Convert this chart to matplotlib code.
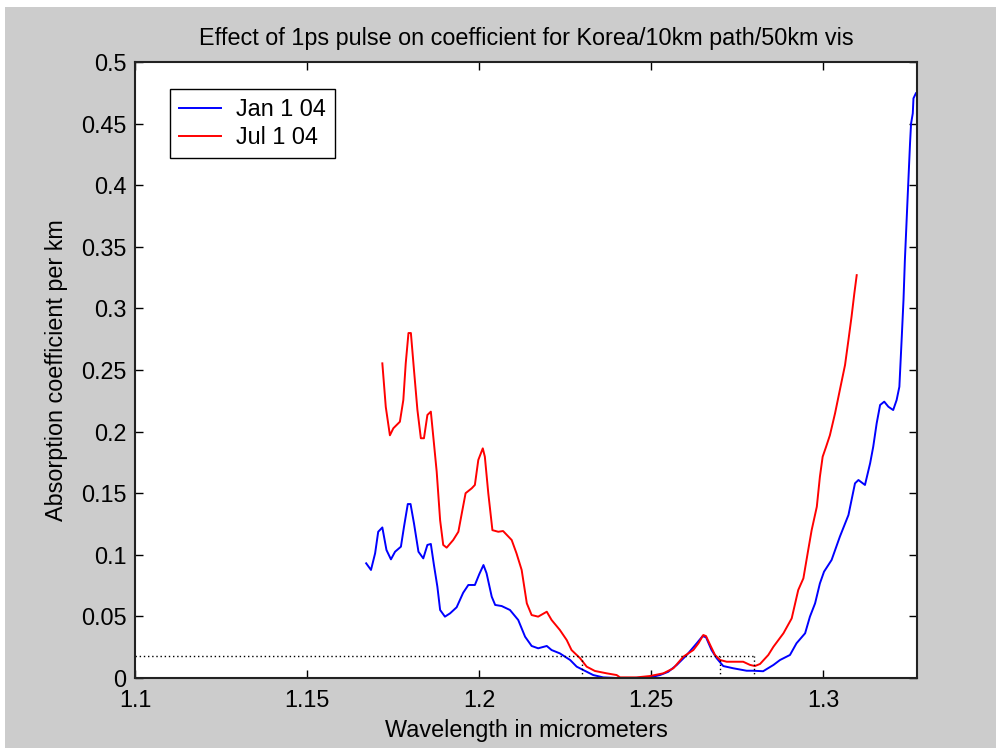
import numpy as np
import matplotlib
matplotlib.use('Agg')
import matplotlib.pyplot as plt
from matplotlib.patches import Rectangle

plt.rcParams['font.family'] = ['Liberation Sans', 'DejaVu Sans']

title = 'Effect of 1ps pulse on coefficient for Korea/10km path/50km vis'
x_label = 'Wavelength in micrometers'
y_label = 'Absorption coefficient per km'
series_names = ['Jan 1 04', 'Jul 1 04']

# Jan 1 04 (blue)
jan_wl = [1.1, 1.1029, np.nan,
          1.1672, 1.1686, 1.1698, 1.1707, 1.1719, 1.1731, 1.1744, 1.1756, 1.1773, 1.1782,
          1.1793, 1.1801, 1.1811, 1.1824, 1.1838, 1.1850, 1.1860, 1.1869, 1.1879, 1.1887,
          1.1901, 1.1916, 1.1935, 1.1954, 1.1969, 1.1988, 1.2001, 1.2013, 1.2022, 1.2037,
          1.2047, 1.2066, 1.2090, 1.2114, 1.2134, 1.2153, 1.2172, 1.2197, 1.2211, 1.2235,
          1.2265, 1.2284, 1.2303, 1.2332, 1.2361, 1.2400, 1.2450, 1.2497, 1.2526, 1.2550,
          1.2575, 1.2604, 1.2633, 1.2650, 1.2660, 1.2676, 1.2691, 1.2710, 1.2739, 1.2778,
          1.2797, 1.2826, 1.2856, 1.2875, 1.2904, 1.2923, 1.2948, 1.2962, 1.2977, 1.2991,
          1.3003, 1.3025, 1.3049, 1.3074, 1.3083, 1.3093, 1.3103, 1.3122, 1.3137, 1.3146,
          1.3156, 1.3166, 1.3178, 1.3190, 1.3204, 1.3214, 1.3222, 1.3229, 1.3234, 1.3238,
          1.3246, 1.3253, 1.3256, 1.3261, 1.3263, 1.3270]
jan_abs = [0.0, 0.0, np.nan,
           0.0931, 0.0877, 0.1012, 0.1187, 0.1222, 0.1039, 0.0963, 0.1025, 0.1066, 0.1228,
           0.1412, 0.1412, 0.1255, 0.1025, 0.0971, 0.1080, 0.1088, 0.0917, 0.0741, 0.0552,
           0.0498, 0.0525, 0.0574, 0.0692, 0.0755, 0.0755, 0.0844, 0.0917, 0.0850, 0.0660,
           0.0593, 0.0584, 0.0552, 0.0471, 0.0335, 0.0260, 0.0241, 0.0260, 0.0227, 0.0200,
           0.0146, 0.0092, 0.0065, 0.0024, 0.0005, 0.0, 0.0, 0.0005, 0.0024, 0.0050,
           0.0106, 0.0187, 0.0282, 0.0340, 0.0330, 0.0227, 0.0160, 0.0097, 0.0079, 0.0059,
           0.0059, 0.0055, 0.0106, 0.0146, 0.0187, 0.0282, 0.0363, 0.0498, 0.0606, 0.0768,
           0.0863, 0.0958, 0.1147, 0.1323, 0.1445, 0.1580, 0.1607, 0.1567, 0.1743, 0.1877,
           0.2067, 0.2216, 0.2243, 0.2202, 0.2175, 0.2256, 0.2364, 0.2770, 0.3068, 0.3390,
           0.3900, 0.4340, 0.4500, 0.4583, 0.4705, 0.4746]

# Jul 1 04 (red)
jul_wl = [1.1719, 1.1729, 1.1741, 1.1751, 1.1770, 1.1780, 1.1787, 1.1795, 1.1802, 1.1811,
          1.1821, 1.1831, 1.1840, 1.1850, 1.1860, 1.1869, 1.1877, 1.1887, 1.1896, 1.1906,
          1.1925, 1.1940, 1.1950, 1.1961, 1.1979, 1.1988, 1.1998, 1.2011, 1.2017, 1.2027,
          1.2039, 1.2056, 1.2070, 1.2095, 1.2109, 1.2124, 1.2139, 1.2153, 1.2172, 1.2197,
          1.2211, 1.2235, 1.2255, 1.2269, 1.2294, 1.2313, 1.2337, 1.2371, 1.2400, 1.2410,
          1.2458, 1.2497, 1.2536, 1.2565, 1.2594, 1.2623, 1.2638, 1.2652, 1.2660, 1.2672,
          1.2686, 1.2701, 1.2720, 1.2768, 1.2788, 1.2802, 1.2817, 1.2841, 1.2856, 1.2885,
          1.2909, 1.2928, 1.2943, 1.2957, 1.2967, 1.2982, 1.2991, 1.2999, 1.3009, 1.3020,
          1.3035, 1.3049, 1.3064, 1.3074, 1.3083, 1.3091, 1.3098]
jul_abs = [0.2554, 0.2200, 0.1970, 0.2027, 0.2080, 0.2256, 0.2554, 0.2800, 0.2800, 0.2500,
           0.2175, 0.1946, 0.1946, 0.2135, 0.2162, 0.1905, 0.1675, 0.1280, 0.1080, 0.1058,
           0.1120, 0.1187, 0.1337, 0.1500, 0.1540, 0.1567, 0.1770, 0.1864, 0.1796, 0.1500,
           0.1200, 0.1187, 0.1193, 0.1120, 0.1012, 0.0877, 0.0606, 0.0511, 0.0498, 0.0538,
           0.0471, 0.0390, 0.0308, 0.0227, 0.0160, 0.0092, 0.0057, 0.0038, 0.0024, 0.0005,
           0.0005, 0.0016, 0.0038, 0.0079, 0.0173, 0.0227, 0.0282, 0.0349, 0.0340, 0.0268,
           0.0187, 0.0146, 0.0132, 0.0132, 0.0106, 0.0097, 0.0114, 0.0187, 0.0254, 0.0363,
           0.0484, 0.0714, 0.0809, 0.1039, 0.1200, 0.1390, 0.1634, 0.1796, 0.1877, 0.1970,
           0.2148, 0.2338, 0.2540, 0.2744, 0.2933, 0.3120, 0.3270]

# dotted guide lines
ref_level = 0.0179
ref_marks = [1.23, 1.27, 1.28]

x_ticks = [1.1, 1.15, 1.2, 1.25, 1.3]
x_tick_labels = ['1.1', '1.15', '1.2', '1.25', '1.3']
y_ticks = [0, 0.05, 0.1, 0.15, 0.2, 0.25, 0.3, 0.35, 0.4, 0.45, 0.5]
y_tick_labels = ['0', '0.05', '0.1', '0.15', '0.2', '0.25', '0.3', '0.35', '0.4', '0.45', '0.5']

fs = 16.8
fig = plt.figure(figsize=(10.01, 7.54), dpi=100, facecolor='white')
# gray matlab figure area with thin white margin
fig.patches.append(Rectangle((5 / 1001, 6 / 754), 991 / 1001, 741 / 754,
                             transform=fig.transFigure, facecolor='#cccccc',
                             edgecolor='none', zorder=-10))
ax = fig.add_axes([135 / 1001, 76 / 754, 782 / 1001, 616 / 754])
ax.set_facecolor('white')

ax.plot(jan_wl, jan_abs, color='#0000ff', linewidth=1.4, label=series_names[0])
ax.plot(jul_wl, jul_abs, color='#ff0000', linewidth=1.4, label=series_names[1])

ax.plot([1.1, max(ref_marks)], [ref_level, ref_level], color='black', linestyle=(0, (1, 2)), linewidth=1.0)
for m in ref_marks:
    ax.plot([m, m], [0, ref_level], color='black', linestyle=(0, (1, 2)), linewidth=1.0)

ax.set_xlim(1.1, 1.1 + 782 / 3440)
ax.set_ylim(0, 0.5)
ax.set_xticks(x_ticks)
ax.set_xticklabels(x_tick_labels)
ax.set_yticks(y_ticks)
ax.set_yticklabels(y_tick_labels)
ax.tick_params(direction='in', length=6, width=1, top=True, right=True,
               labelsize=fs, colors='black')
ax.tick_params(axis='x', pad=8)
ax.tick_params(axis='y', pad=6)
for s in ax.spines.values():
    s.set_linewidth(1.5)
    s.set_color('#222222')

ax.set_title(title, fontsize=fs, pad=12)
ax.set_xlabel(x_label, fontsize=fs)
ax.set_ylabel(y_label, fontsize=fs)
ax.xaxis.set_label_coords(0.5, -53 / 616)
ax.xaxis.label.set_va('center')
ax.yaxis.set_label_coords(-78 / 782, 0.5)
ax.yaxis.label.set_va('center')

leg = ax.legend(loc='upper left', bbox_to_anchor=(35 / 782, (678 - 89) / 616),
                borderaxespad=0, fontsize=fs, fancybox=False, framealpha=1,
                edgecolor='black', handlelength=1.8, handletextpad=0.65,
                labelspacing=0.22, borderpad=0.38)
leg.get_frame().set_linewidth(1.0)

fig.savefig('out.png', dpi=100, facecolor=fig.get_facecolor())
